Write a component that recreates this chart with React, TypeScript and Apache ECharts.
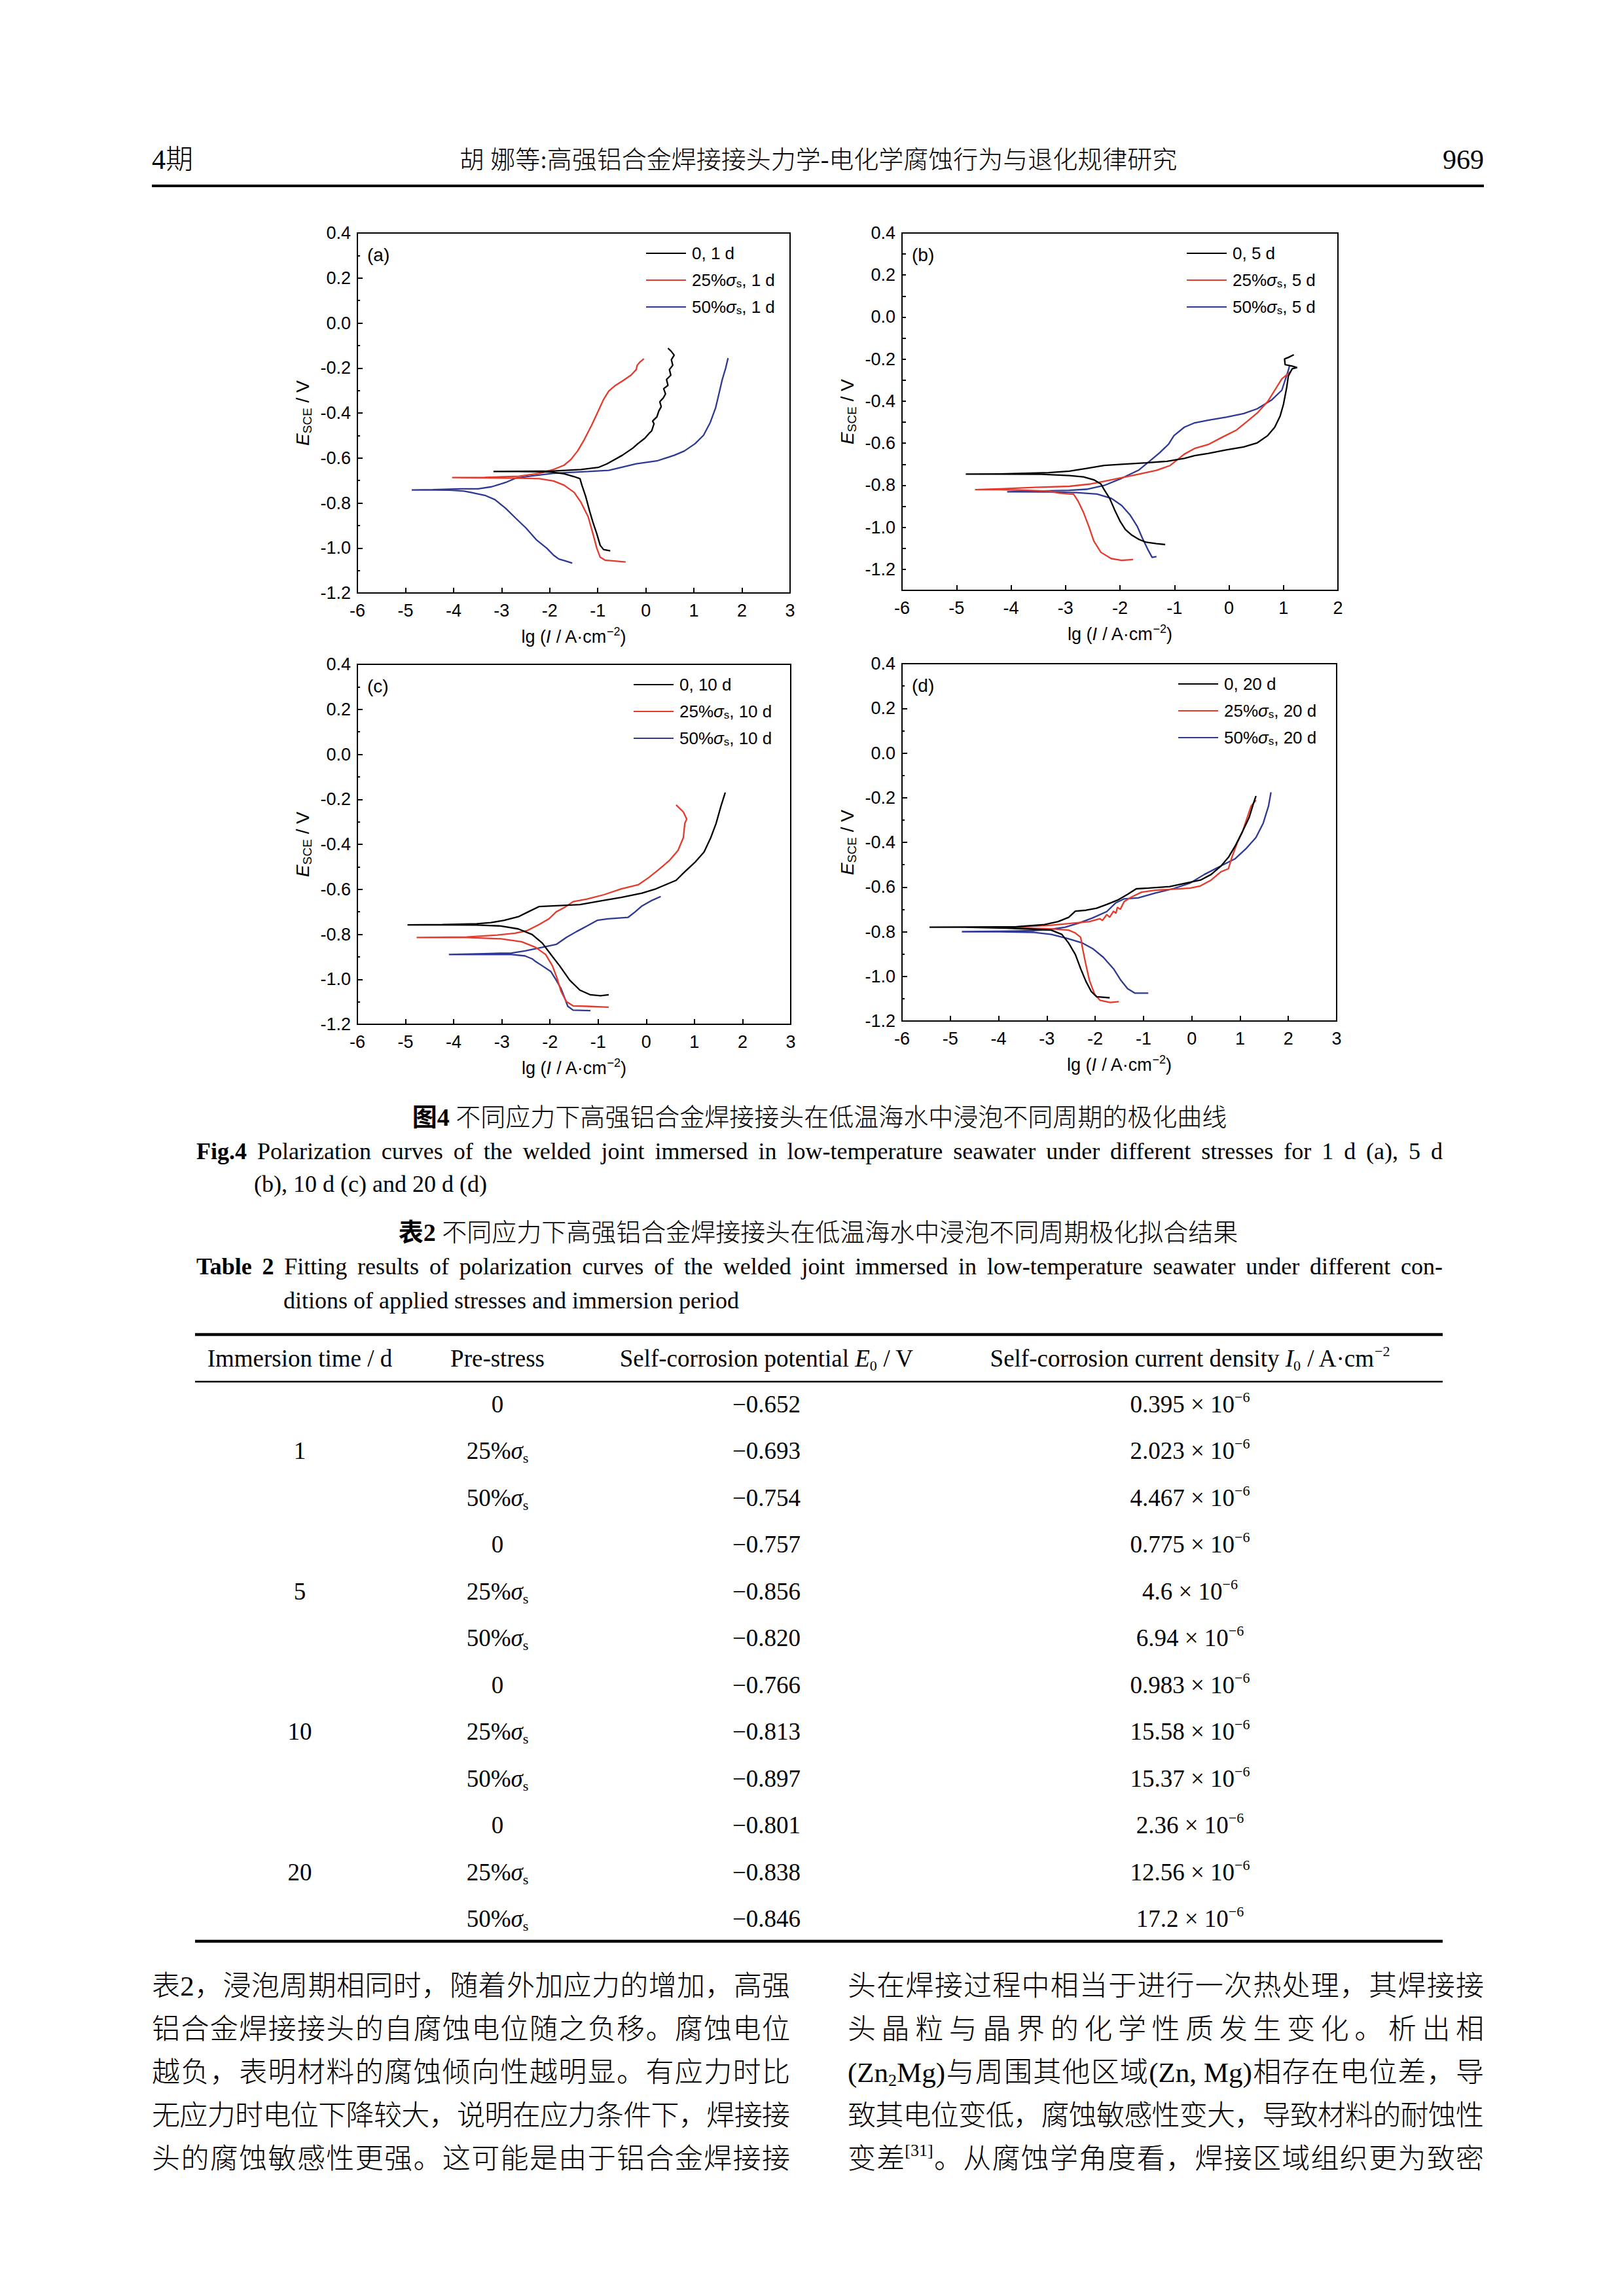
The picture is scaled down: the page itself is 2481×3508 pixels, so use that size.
import React, { useEffect, useRef } from 'react';
import * as echarts from 'echarts';

const SANS = '"Liberation Sans", Arial, sans-serif';
const SERIF = '"Liberation Serif", "Times New Roman", serif';
const MIX = '"Liberation Serif", "Noto Sans CJK SC", serif';

// ---------------- chart data: [lg I, E] pairs ----------------
const a0 = [[-0.74,-1.013],[-0.88,-1.007],[-0.95,-0.988],[-1.02,-0.937],[-1.10,-0.886],[-1.17,-0.836],[-1.25,-0.772],[-1.33,-0.721],[-1.37,-0.692],[-1.49,-0.683],[-1.70,-0.670],[-1.99,-0.662],[-2.64,-0.660],[-3.17,-0.660],[-2.64,-0.659],[-1.92,-0.658],[-1.35,-0.651],[-0.99,-0.642],[-0.81,-0.626],[-0.70,-0.613],[-0.49,-0.588],[-0.27,-0.556],[-0.17,-0.537],[-0.02,-0.512],[0.07,-0.490],[0.12,-0.480],[0.17,-0.448],[0.14,-0.436],[0.23,-0.417],[0.27,-0.391],[0.32,-0.372],[0.29,-0.350],[0.36,-0.334],[0.41,-0.315],[0.37,-0.292],[0.46,-0.277],[0.43,-0.251],[0.52,-0.232],[0.49,-0.207],[0.56,-0.188],[0.53,-0.163],[0.59,-0.143],[0.52,-0.124],[0.46,-0.112]];
const a25 = [[-0.42,-1.062],[-0.85,-1.054],[-0.95,-1.041],[-1.02,-1.001],[-1.10,-0.937],[-1.20,-0.861],[-1.35,-0.797],[-1.49,-0.753],[-1.70,-0.721],[-1.92,-0.702],[-2.21,-0.692],[-2.64,-0.690],[-3.35,-0.688],[-4.03,-0.687],[-3.35,-0.686],[-2.64,-0.681],[-2.21,-0.668],[-1.92,-0.651],[-1.70,-0.632],[-1.56,-0.607],[-1.42,-0.569],[-1.28,-0.518],[-1.13,-0.455],[-0.99,-0.391],[-0.88,-0.340],[-0.77,-0.302],[-0.63,-0.277],[-0.49,-0.258],[-0.31,-0.232],[-0.20,-0.207],[-0.18,-0.188],[-0.13,-0.175],[-0.04,-0.159]];
const a50 = [[-1.53,-1.067],[-1.67,-1.058],[-1.81,-1.049],[-1.92,-1.032],[-2.06,-1.001],[-2.28,-0.963],[-2.49,-0.912],[-2.71,-0.867],[-2.92,-0.823],[-3.14,-0.785],[-3.35,-0.766],[-3.64,-0.753],[-3.78,-0.747],[-4.07,-0.743],[-4.43,-0.742],[-4.87,-0.742],[-4.43,-0.741],[-3.85,-0.737],[-3.49,-0.737],[-3.21,-0.728],[-2.92,-0.709],[-2.71,-0.690],[-2.42,-0.681],[-1.92,-0.668],[-1.20,-0.660],[-0.77,-0.655],[-0.20,-0.626],[0.23,-0.613],[0.59,-0.588],[0.80,-0.569],[1.02,-0.537],[1.20,-0.499],[1.34,-0.442],[1.45,-0.378],[1.52,-0.315],[1.59,-0.251],[1.66,-0.201],[1.71,-0.156]];

const b0 = [[-1.17,-1.082],[-1.33,-1.078],[-1.52,-1.071],[-1.65,-1.058],[-1.78,-1.038],[-1.90,-1.011],[-2.00,-0.970],[-2.10,-0.916],[-2.19,-0.862],[-2.29,-0.821],[-2.35,-0.794],[-2.48,-0.774],[-2.67,-0.760],[-2.93,-0.754],[-3.44,-0.748],[-4.20,-0.747],[-4.83,-0.747],[-4.20,-0.746],[-3.31,-0.740],[-2.93,-0.733],[-2.61,-0.720],[-2.29,-0.706],[-1.97,-0.700],[-1.52,-0.693],[-1.14,-0.686],[-0.82,-0.672],[-0.63,-0.659],[-0.37,-0.648],[-0.05,-0.632],[0.27,-0.618],[0.52,-0.598],[0.71,-0.564],[0.84,-0.524],[0.94,-0.470],[1.00,-0.415],[1.06,-0.334],[1.09,-0.280],[1.16,-0.246],[1.25,-0.240],[1.16,-0.233],[1.03,-0.226],[1.02,-0.199],[1.09,-0.192],[1.19,-0.179]];
const b25 = [[-1.76,-1.153],[-1.97,-1.157],[-2.16,-1.149],[-2.35,-1.119],[-2.48,-1.065],[-2.57,-0.997],[-2.67,-0.929],[-2.77,-0.875],[-2.85,-0.843],[-2.93,-0.841],[-3.12,-0.837],[-3.31,-0.828],[-3.69,-0.824],[-4.20,-0.821],[-4.66,-0.821],[-4.20,-0.817],[-3.56,-0.810],[-2.93,-0.805],[-2.54,-0.794],[-2.29,-0.781],[-1.97,-0.764],[-1.65,-0.747],[-1.33,-0.729],[-1.08,-0.706],[-0.95,-0.679],[-0.82,-0.652],[-0.63,-0.625],[-0.37,-0.605],[-0.12,-0.571],[0.14,-0.537],[0.33,-0.497],[0.52,-0.456],[0.71,-0.402],[0.84,-0.348],[0.97,-0.294],[1.13,-0.260]];
const b50 = [[-1.33,-1.139],[-1.41,-1.143],[-1.49,-1.105],[-1.59,-1.051],[-1.68,-0.997],[-1.81,-0.943],[-1.97,-0.896],[-2.16,-0.862],[-2.42,-0.842],[-2.80,-0.835],[-3.31,-0.832],[-4.07,-0.831],[-3.56,-0.828],[-2.93,-0.824],[-2.61,-0.819],[-2.29,-0.801],[-1.97,-0.767],[-1.65,-0.727],[-1.46,-0.686],[-1.27,-0.645],[-1.11,-0.605],[-1.01,-0.564],[-0.82,-0.524],[-0.63,-0.503],[-0.37,-0.490],[-0.05,-0.476],[0.27,-0.459],[0.52,-0.436],[0.78,-0.395],[0.97,-0.348],[1.09,-0.253],[1.11,-0.233]];

const c0 = [[-0.78,-1.069],[-0.95,-1.073],[-1.16,-1.069],[-1.38,-1.048],[-1.59,-1.004],[-1.80,-0.940],[-1.98,-0.890],[-2.16,-0.839],[-2.37,-0.801],[-2.66,-0.776],[-3.02,-0.763],[-3.52,-0.759],[-4.23,-0.758],[-4.96,-0.758],[-4.23,-0.757],[-3.52,-0.753],[-3.23,-0.748],[-2.95,-0.738],[-2.66,-0.722],[-2.45,-0.700],[-2.23,-0.677],[-1.95,-0.674],[-1.38,-0.668],[-0.88,-0.649],[-0.52,-0.636],[-0.09,-0.617],[0.20,-0.598],[0.41,-0.579],[0.62,-0.560],[0.80,-0.522],[1.02,-0.478],[1.20,-0.434],[1.34,-0.370],[1.45,-0.307],[1.55,-0.231],[1.64,-0.170]];
const c25 = [[-0.78,-1.124],[-1.23,-1.120],[-1.52,-1.118],[-1.66,-1.099],[-1.77,-1.054],[-1.86,-0.991],[-1.95,-0.940],[-2.09,-0.890],[-2.30,-0.858],[-2.59,-0.833],[-3.02,-0.820],[-3.73,-0.814],[-4.77,-0.814],[-3.73,-0.812],[-3.09,-0.803],[-2.73,-0.795],[-2.48,-0.784],[-2.23,-0.757],[-2.02,-0.731],[-1.87,-0.700],[-1.70,-0.681],[-1.52,-0.655],[-1.23,-0.643],[-0.88,-0.624],[-0.52,-0.598],[-0.16,-0.579],[0.05,-0.548],[0.27,-0.510],[0.48,-0.472],[0.66,-0.427],[0.77,-0.370],[0.80,-0.307],[0.84,-0.288],[0.77,-0.256],[0.62,-0.225]];
const c50 = [[-1.16,-1.139],[-1.52,-1.137],[-1.63,-1.120],[-1.70,-1.080],[-1.77,-1.042],[-1.87,-1.004],[-1.98,-0.966],[-2.16,-0.940],[-2.30,-0.921],[-2.37,-0.909],[-2.52,-0.896],[-2.80,-0.890],[-3.37,-0.890],[-4.10,-0.890],[-3.37,-0.886],[-2.80,-0.883],[-2.52,-0.874],[-2.16,-0.858],[-1.87,-0.845],[-1.66,-0.814],[-1.45,-0.788],[-1.23,-0.763],[-1.02,-0.738],[-0.80,-0.731],[-0.38,-0.725],[-0.23,-0.700],[-0.09,-0.674],[0.12,-0.649],[0.30,-0.632]];

const d0 = [[-1.70,-1.096],[-1.97,-1.091],[-2.08,-1.068],[-2.19,-1.023],[-2.30,-0.966],[-2.41,-0.902],[-2.55,-0.851],[-2.69,-0.812],[-2.91,-0.793],[-3.27,-0.789],[-3.84,-0.784],[-4.71,-0.780],[-5.43,-0.780],[-4.71,-0.779],[-3.63,-0.778],[-3.05,-0.768],[-2.77,-0.755],[-2.55,-0.736],[-2.41,-0.708],[-2.19,-0.704],[-1.97,-0.695],[-1.76,-0.678],[-1.54,-0.659],[-1.33,-0.633],[-1.15,-0.608],[-0.90,-0.605],[-0.46,-0.598],[-0.11,-0.582],[0.18,-0.569],[0.40,-0.544],[0.61,-0.505],[0.76,-0.467],[0.90,-0.416],[1.05,-0.352],[1.19,-0.288],[1.28,-0.224],[1.33,-0.192]];
const d25 = [[-1.51,-1.113],[-1.69,-1.117],[-1.90,-1.107],[-2.01,-1.081],[-2.12,-1.017],[-2.20,-0.940],[-2.26,-0.876],[-2.30,-0.825],[-2.41,-0.806],[-2.55,-0.793],[-2.91,-0.787],[-3.63,-0.783],[-4.13,-0.780],[-3.63,-0.779],[-2.91,-0.771],[-2.55,-0.764],[-2.12,-0.755],[-1.90,-0.742],[-1.85,-0.750],[-1.76,-0.723],[-1.70,-0.735],[-1.62,-0.708],[-1.57,-0.718],[-1.54,-0.691],[-1.48,-0.700],[-1.40,-0.665],[-1.26,-0.646],[-1.04,-0.623],[-0.75,-0.614],[-0.39,-0.610],[-0.03,-0.605],[0.18,-0.595],[0.40,-0.569],[0.61,-0.531],[0.76,-0.518],[0.83,-0.467],[0.94,-0.403],[1.05,-0.352],[1.15,-0.288],[1.23,-0.237],[1.33,-0.211]];
const d50 = [[-0.90,-1.075],[-1.18,-1.075],[-1.33,-1.055],[-1.47,-1.017],[-1.62,-0.966],[-1.83,-0.915],[-2.05,-0.876],[-2.26,-0.851],[-2.55,-0.832],[-2.91,-0.812],[-3.27,-0.803],[-3.99,-0.800],[-4.76,-0.800],[-3.99,-0.798],[-3.27,-0.795],[-2.91,-0.789],[-2.62,-0.780],[-2.33,-0.761],[-2.05,-0.738],[-1.76,-0.710],[-1.58,-0.672],[-1.40,-0.653],[-1.11,-0.649],[-0.75,-0.627],[-0.39,-0.608],[-0.03,-0.582],[0.26,-0.544],[0.61,-0.505],[0.90,-0.473],[1.12,-0.429],[1.33,-0.378],[1.48,-0.314],[1.59,-0.237],[1.64,-0.176]];

const panelLabels = ['(a)', '(b)', '(c)', '(d)'];
const panelDays = ['1 d', '5 d', '10 d', '20 d'];
const stressLabels = ['0', '25%σs', '50%σs'];
const xAxisMax = [3, 2, 3, 3];
const yAxisMin = [-1.2, -1.3, -1.2, -1.2];
const curves = [[a0, a25, a50], [b0, b25, b50], [c0, c25, c50], [d0, d25, d50]];

// ---------------- table data ----------------
const immersionTimes = ['1', '5', '10', '20'];
const preStresses = ['0', '25%σs', '50%σs'];
const corrosionPotentials = ['−0.652', '−0.693', '−0.754', '−0.757', '−0.856', '−0.820', '−0.766', '−0.813', '−0.897', '−0.801', '−0.838', '−0.846'];
const currentMantissas = ['0.395', '2.023', '4.467', '0.775', '4.6', '6.94', '0.983', '15.58', '15.37', '2.36', '12.56', '17.2'];

// ---------------- page texts ----------------
const headerLeft = '4期';
const headerTitle = '胡 娜等:高强铝合金焊接接头力学-电化学腐蚀行为与退化规律研究';
const headerPage = '969';
const figCaptionCn = '不同应力下高强铝合金焊接接头在低温海水中浸泡不同周期的极化曲线';
const figCaptionEn1 = 'Polarization curves of the welded joint immersed in low-temperature seawater under different stresses for 1 d (a), 5 d';
const figCaptionEn2 = '(b), 10 d (c) and 20 d (d)';
const tabCaptionCn = '不同应力下高强铝合金焊接接头在低温海水中浸泡不同周期极化拟合结果';
const tabCaptionEn1 = 'Fitting results of polarization curves of the welded joint immersed in low-temperature seawater under different con-';
const tabCaptionEn2 = 'ditions of applied stresses and immersion period';
type Seg = string | { sub?: string; sup?: string };
const bodyLeft: Seg[][] = [
  ['表2，浸泡周期相同时，随着外加应力的增加，高强'],
  ['铝合金焊接接头的自腐蚀电位随之负移。腐蚀电位'],
  ['越负，表明材料的腐蚀倾向性越明显。有应力时比'],
  ['无应力时电位下降较大，说明在应力条件下，焊接接'],
  ['头的腐蚀敏感性更强。这可能是由于铝合金焊接接'],
];
const bodyRight: Seg[][] = [
  ['头在焊接过程中相当于进行一次热处理，其焊接接'],
  ['头晶粒与晶界的化学性质发生变化。析出相'],
  ['(Zn', { sub: '2' }, 'Mg)与周围其他区域(Zn, Mg)相存在电位差，导'],
  ['致其电位变低，腐蚀敏感性变大，导致材料的耐蚀性'],
  ['变差', { sup: '[31]' }, '。从腐蚀学角度看，焊接区域组织更为致密'],
];

// ---------------- layout ----------------
const GRIDS = [
  { left: 546, top: 356, width: 661, height: 550 },
  { left: 1378, top: 356, width: 666, height: 546 },
  { left: 546, top: 1015, width: 662, height: 550 },
  { left: 1378, top: 1014, width: 664, height: 546 },
];
const LEGEND_OFF = [220, 231, 240, 242];
const COLORS = ['#000000', '#e5392c', '#2d3894'];

let measureCtx: any = null;
function textWidth(s: string, font: string): number {
  if (!measureCtx) measureCtx = document.createElement('canvas').getContext('2d');
  measureCtx.font = font;
  return measureCtx.measureText(s).width;
}

function txt(x: number, y: number, text: string, o: any) {
  const align = o.align || 'left';
  return {
    type: 'text', x, y, silent: true,
    style: {
      text,
      fontSize: o.size,
      fontFamily: o.family,
      fontWeight: o.weight || 'normal',
      fontStyle: o.fstyle || 'normal',
      fill: '#000',
      align, verticalAlign: 'middle',
      textAlign: align, textVerticalAlign: 'middle',
      rich: o.rich,
      lineHeight: o.lineHeight,
    },
  };
}

function hline(x1: number, x2: number, y: number, w: number) {
  return { type: 'line', silent: true, shape: { x1, y1: y, x2, y2: y }, style: { stroke: '#000', lineWidth: w } };
}

function justifyWords(words: { t: string; b?: boolean }[], x0: number, x1: number, y: number, size: number) {
  const fonts = words.map((w) => `${w.b ? 'bold ' : ''}${size}px ${SERIF}`);
  const widths = words.map((w, i) => textWidth(w.t, fonts[i]));
  const total = widths.reduce((a, b) => a + b, 0);
  const gap = (x1 - x0 - total) / (words.length - 1);
  let x = x0;
  return words.map((w, i) => {
    const el = txt(x, y, w.t, { size, family: SERIF, weight: w.b ? 'bold' : 'normal' });
    x += widths[i] + gap;
    return el;
  });
}

function justifyCJK(segs: Seg[], x0: number, x1: number, y: number, size: number) {
  const toks: { t: string; kind: string; glue: boolean }[] = [];
  let glueNext = false;
  for (const s of segs) {
    if (typeof s !== 'string') {
      const t = s.sub != null ? s.sub : s.sup || '';
      toks.push({ t, kind: s.sub != null ? 'sub' : 'sup', glue: true });
      glueNext = true;
      continue;
    }
    let run = '';
    const flush = () => {
      if (run) { toks.push({ t: run, kind: 'n', glue: glueNext }); run = ''; glueNext = false; }
    };
    for (const ch of Array.from(s)) {
      if (ch.charCodeAt(0) < 128) run += ch;
      else { flush(); toks.push({ t: ch, kind: 'n', glue: false }); glueNext = false; }
    }
    flush();
  }
  const small = Math.round(size * 0.6);
  const fontOf = (k: string) => (k === 'n' ? `300 ${size}px ${MIX}` : `${small}px ${SERIF}`);
  const widths = toks.map((t) => textWidth(t.t, fontOf(t.kind)));
  const total = widths.reduce((a, b) => a + b, 0);
  const gaps = toks.filter((t, i) => i > 0 && !t.glue).length;
  const extra = gaps > 0 ? (x1 - x0 - total) / gaps : 0;
  let x = x0;
  return toks.map((t, i) => {
    if (i > 0 && !t.glue) x += extra;
    const yy = t.kind === 'sub' ? y + size * 0.28 : t.kind === 'sup' ? y - size * 0.3 : y;
    const el = txt(x, yy, t.t, {
      size: t.kind === 'n' ? size : small,
      family: t.kind === 'n' ? MIX : SERIF,
      weight: t.kind === 'n' ? '300' : 'normal',
    });
    x += widths[i];
    return el;
  });
}

function buildOption() {
  const legendRich = {
    g: { fontStyle: 'italic', fontSize: 26, fontFamily: SANS, lineHeight: 28 },
    s: { fontSize: 17, fontFamily: SANS, lineHeight: 17, verticalAlign: 'bottom' },
  };
  const grid = GRIDS.map((g) => ({ ...g, show: true, borderColor: '#000', borderWidth: 2, backgroundColor: 'transparent', containLabel: false }));
  const xAxis = GRIDS.map((g, i) => ({
    type: 'value', gridIndex: i, min: -6, max: xAxisMax[i], interval: 1,
    axisLine: { show: true, onZero: false, lineStyle: { color: '#000', width: 2 } },
    axisTick: { show: true, inside: true, length: 8, lineStyle: { color: '#000', width: 2 } },
    axisLabel: { fontSize: 27, fontFamily: SANS, color: '#000', margin: 13, formatter: (v: number) => String(Math.round(v)) },
    splitLine: { show: false },
    name: 'lg ({i|I} / A·cm{p|−2})', nameLocation: 'middle', nameGap: 50,
    nameTextStyle: {
      fontSize: 27, fontFamily: SANS, color: '#000', lineHeight: 34,
      rich: {
        i: { fontStyle: 'italic', fontSize: 27, fontFamily: SANS, lineHeight: 34 },
        p: { fontSize: 18, fontFamily: SANS, lineHeight: 18, verticalAlign: 'top' },
      },
    },
  }));
  const yAxis = GRIDS.map((g, i) => {
    const fine = yAxisMin[i] === -1.3;
    return {
      type: 'value', gridIndex: i, min: yAxisMin[i], max: 0.4, interval: fine ? 0.1 : 0.2,
      axisLine: { show: true, onZero: false, lineStyle: { color: '#000', width: 2 } },
      axisTick: { show: true, inside: true, length: fine ? 6 : 8, lineStyle: { color: '#000', width: 2 } },
      minorTick: { show: !fine, splitNumber: 2, length: 4, lineStyle: { color: '#000', width: 2 } },
      axisLabel: {
        fontSize: 27, fontFamily: SANS, color: '#000', margin: 10,
        formatter: (v: number) => {
          const k = Math.round(v * 10);
          if (fine && k % 2 !== 0) return '';
          return (k / 10).toFixed(1);
        },
      },
      splitLine: { show: false },
      minorSplitLine: { show: false },
      name: '{e|E}{s|SCE}{n| / V}', nameLocation: 'middle', nameGap: 67, nameRotate: 90,
      nameTextStyle: {
        fontSize: 28, fontFamily: SANS, color: '#000', lineHeight: 34,
        rich: {
          e: { fontStyle: 'italic', fontSize: 28, fontFamily: SANS, lineHeight: 34 },
          s: { fontSize: 19, fontFamily: SANS, lineHeight: 19, verticalAlign: 'bottom' },
          n: { fontSize: 28, fontFamily: SANS, lineHeight: 34 },
        },
      },
    };
  });
  const legend = GRIDS.map((g, i) => ({
    show: true, orient: 'vertical',
    left: g.left + g.width - LEGEND_OFF[i], top: g.top + 31 - 14,
    itemWidth: 61, itemHeight: 2, itemGap: 13, icon: 'rect', padding: 0, selectedMode: false,
    data: stressLabels.map((s) => `${s}, ${panelDays[i]}`),
    formatter: (name: string) => name.replace('σs', '{g|σ}{s|s}'),
    textStyle: { fontSize: 26, fontFamily: SANS, color: '#000', lineHeight: 28, padding: [0, 0, 0, 4], rich: legendRich },
  }));
  const series: any[] = [];
  curves.forEach((set, i) => {
    set.forEach((data, j) => {
      series.push({
        type: 'line', name: `${stressLabels[j]}, ${panelDays[i]}`, xAxisIndex: i, yAxisIndex: i,
        data, showSymbol: false, symbol: 'none', color: COLORS[j],
        lineStyle: { color: COLORS[j], width: 2.3 }, clip: true, z: 3 - j,
      });
    });
  });

  const els: any[] = [];
  // header
  els.push(txt(232, 244, headerLeft, { size: 42, family: MIX, weight: '300' }));
  els.push(txt(1250, 244, headerTitle, { size: 38, family: MIX, align: 'center', weight: '300' }));
  els.push(txt(2267, 244, headerPage, { size: 42, family: SERIF, align: 'right' }));
  els.push(hline(232, 2267, 284, 4));
  // panel labels
  GRIDS.forEach((g, i) => els.push(txt(g.left + 15, g.top + 33, panelLabels[i], { size: 28, family: SANS })));
  // figure caption
  els.push(txt(1252, 1707, `{b|图4} ${figCaptionCn}`, {
    size: 38, family: MIX, align: 'center', lineHeight: 46, weight: '300',
    rich: { b: { fontWeight: 'bold', fontSize: 38, fontFamily: MIX, lineHeight: 46 } },
  }));
  els.push(...justifyWords([{ t: 'Fig.4', b: true }, ...figCaptionEn1.split(' ').map((t) => ({ t }))], 300, 2204, 1759, 36));
  els.push(txt(388, 1809, figCaptionEn2, { size: 36, family: SERIF }));
  els.push(txt(1250, 1883, `{b|表2} ${tabCaptionCn}`, {
    size: 38, family: MIX, align: 'center', lineHeight: 46, weight: '300',
    rich: { b: { fontWeight: 'bold', fontSize: 38, fontFamily: MIX, lineHeight: 46 } },
  }));
  els.push(...justifyWords([{ t: 'Table', b: true }, { t: '2', b: true }, ...tabCaptionEn1.split(' ').map((t) => ({ t }))], 300, 2204, 1935, 36));
  els.push(txt(433, 1987, tabCaptionEn2, { size: 36, family: SERIF }));
  // table
  const tRich = {
    i: { fontStyle: 'italic', fontSize: 37, fontFamily: SERIF, lineHeight: 44 },
    sub: { fontSize: 22, fontFamily: SERIF, lineHeight: 22, verticalAlign: 'bottom' },
    sup: { fontSize: 22, fontFamily: SERIF, lineHeight: 22, verticalAlign: 'top' },
  };
  const colX = [458, 760, 1171, 1818];
  els.push(hline(298, 2204, 2039, 4.5));
  els.push(hline(298, 2204, 2111, 2.5));
  els.push(hline(298, 2204, 2966, 4.5));
  const headers = ['Immersion time / d', 'Pre-stress', 'Self-corrosion potential {i|E}{sub|0} / V', 'Self-corrosion current density {i|I}{sub|0} / A·cm{sup|−2}'];
  headers.forEach((h, c) => els.push(txt(colX[c], 2075, h, { size: 37, family: SERIF, align: 'center', lineHeight: 44, rich: tRich })));
  const fmtStress = (s: string) => s.replace('σs', '{i|σ}{sub|s}');
  for (let r = 0; r < 12; r++) {
    const y = 2145 + r * 71.5;
    if (r % 3 === 1) els.push(txt(colX[0], y, immersionTimes[(r - 1) / 3], { size: 37, family: SERIF, align: 'center' }));
    els.push(txt(colX[1], y, fmtStress(preStresses[r % 3]), { size: 37, family: SERIF, align: 'center', lineHeight: 44, rich: tRich }));
    els.push(txt(colX[2], y, corrosionPotentials[r], { size: 37, family: SERIF, align: 'center' }));
    els.push(txt(colX[3], y, `${currentMantissas[r]} × 10{sup|−6}`, { size: 37, family: SERIF, align: 'center', lineHeight: 44, rich: tRich }));
  }
  // body text
  bodyLeft.forEach((segs, i) => els.push(...justifyCJK(segs, 232, 1207, 3034 + i * 66, 43)));
  bodyRight.forEach((segs, i) => els.push(...justifyCJK(segs, 1295, 2267, 3034 + i * 66, 43)));

  return {
    animation: false,
    backgroundColor: '#ffffff',
    textStyle: { fontFamily: SANS },
    grid, xAxis, yAxis, legend, series,
    graphic: { elements: els },
  };
}

export default function App() {
  const ref = useRef<HTMLDivElement>(null);
  useEffect(() => {
    if (!ref.current) return;
    const chart = echarts.init(ref.current, undefined, { renderer: 'svg' });
    chart.setOption(buildOption() as any);
    return () => chart.dispose();
  }, []);
  return <div ref={ref} style={{ position: 'absolute', left: 0, top: 0, width: 2481, height: 3508 }} />;
}
